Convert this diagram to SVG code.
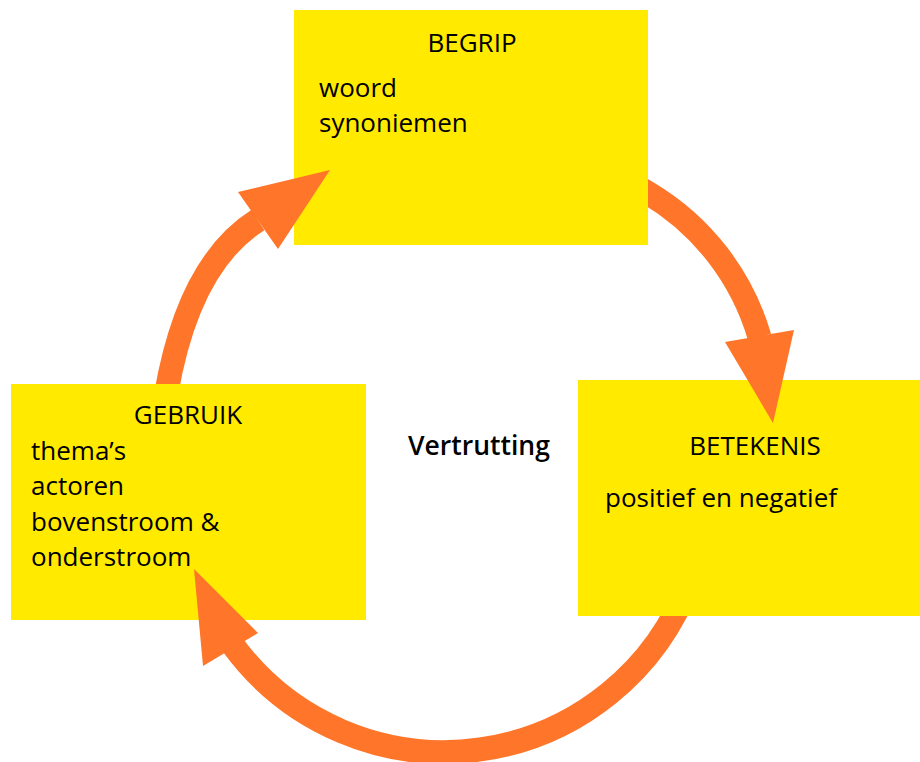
<svg xmlns="http://www.w3.org/2000/svg" width="920" height="762" viewBox="0 0 920 762">
<style>
.box{fill:#FFEA00;}
.arc{fill:none;stroke:#FF7529;stroke-width:24;}
.head{fill:#FF7529;}
text{font-family:"Open Sans","Liberation Sans",sans-serif;font-size:26px;fill:#000;}
.title{text-anchor:middle;}
.center{font-weight:600;font-size:26.5px;}
</style>
<rect width="920" height="762" fill="#fff"/>
<g id="connectors-body">
<path class="arc" d="M 162,420 L 166,395 C 177,330 201,256 258,220"/>
<path class="arc" d="M 613.6,172.5 L 648,193 A 249 249 0 0 1 759.5,337"/>
<path class="arc" d="M 690.2,579.6 A 262 262 0 0 1 232,644"/>
</g>
<g id="node-begrip">
<rect class="box" x="294" y="10" width="354" height="235"/>
<text class="title" x="472" y="52">BEGRIP</text>
<text x="319" y="97">woord</text>
<text x="319" y="132">synoniemen</text>
</g>
<g id="node-gebruik">
<rect class="box" x="11" y="384" width="355" height="236"/>
<text class="title" x="188" y="424">GEBRUIK</text>
<text x="31" y="460">thema’s</text>
<text x="31" y="495">actoren</text>
<text x="31" y="531">bovenstroom &amp;</text>
<text x="31" y="566">onderstroom</text>
</g>
<g id="node-betekenis">
<rect class="box" x="578" y="380" width="342" height="236"/>
<text class="title" x="755" y="455">BETEKENIS</text>
<text x="605" y="507">positief en negatief</text>
</g>
<g id="node-center">
<text class="center" x="408" y="455">Vertrutting</text>
</g>
<g id="connectors-heads">
<polygon class="head" points="330,170 238,192 278,249"/>
<polygon class="head" points="773,423 725,342 794,330"/>
<polygon class="head" points="194,569 258,633 203,666"/>
</g>
</svg>
